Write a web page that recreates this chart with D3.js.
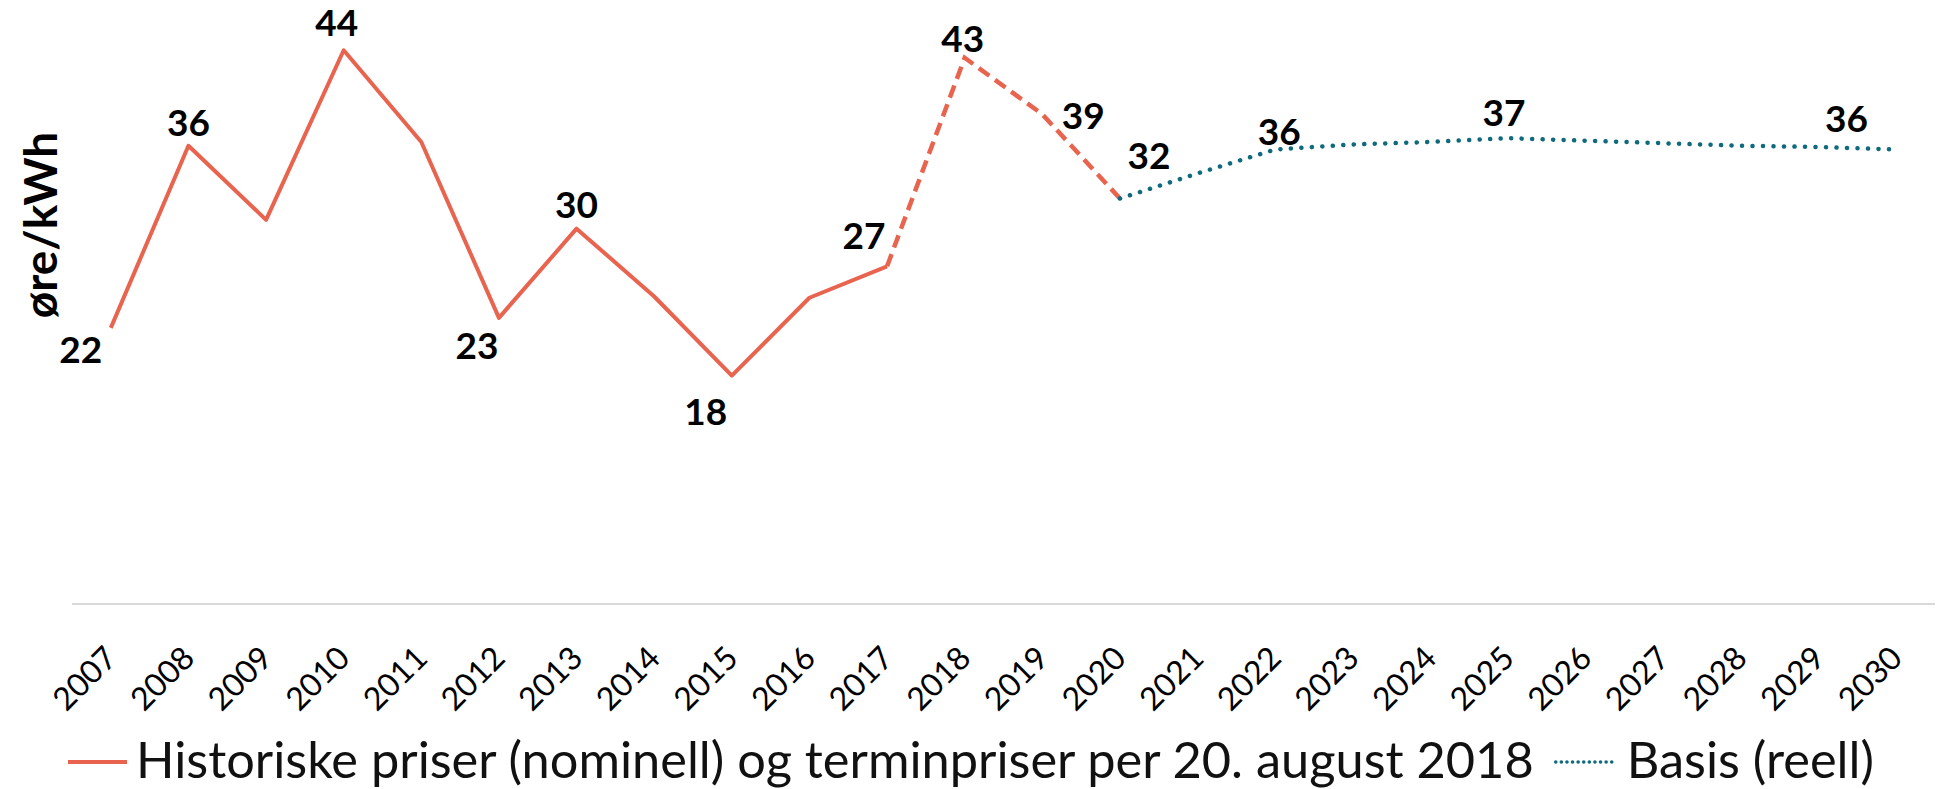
<!DOCTYPE html>
<html lang="nb">
<head>
  <meta charset="UTF-8">
  <title>Kraftpriser øre/kWh</title>
  <script src="https://d3js.org/d3.v7.min.js"></script>
  <style>
    body {
      margin: 0;
      background: #fff;
    }
    svg {
      display: block;
      font-family: Lato, "Open Sans", sans-serif;
    }
    .label {
      font-size: 37px;
      font-weight: bold;
      fill: #000;
      text-anchor: middle;
    }
    .tick-label {
      font-size: 32px;
      fill: #000;
      text-anchor: end;
    }
    .legend-text {
      font-size: 50.5px;
      fill: #111;
    }
  </style>
</head>
<body>
  <svg id="chart" width="1939" height="789"></svg>

  <script>
    // Kategorier (år)
    const years = d3.range(2007, 2031).map(String);

    // Historiske priser (nominell) 2007-2017 og terminpriser 2018-2020
    const histYears = ['2007', '2008', '2009', '2010', '2011', '2012', '2013', '2014', '2015', '2016', '2017', '2018', '2019', '2020'];
    const histValues = [21.9, 36.4, 30.5, 44.0, 36.7, 22.7, 29.8, 24.4, 18.1, 24.3, 26.8, 43.4, 38.9, 32.2];
    const forwardStart = '2017'; // herfra er linja stiplet

    // Basis (reell) 2020-2030
    const basisYears = ['2020', '2021', '2022', '2023', '2024', '2025', '2026', '2027', '2028', '2029', '2030'];
    const basisValues = [32.2, 34.2, 36.1, 36.5, 36.7, 37.0, 36.8, 36.6, 36.4, 36.3, 36.1];

    // Hvilke punkter som har dataetikett
    const histLabelled = ['2007', '2008', '2010', '2012', '2013', '2015', '2017', '2018', '2019', '2020'];
    const basisLabelled = ['2022', '2025', '2029'];

    const legendNames = ['Historiske priser (nominell) og terminpriser per 20. august 2018', 'Basis (reell)'];
    const yTitle = 'øre/kWh';

    // Plassering av etikettene i forhold til punktet (dx, dy til grunnlinja)
    const labelOffset = {
      '2007': [-30, 35], '2008': [0, -10], '2010': [-7, -14], '2012': [-22, 41],
      '2013': [0, -11], '2015': [-26, 49], '2017': [-23, -17], '2018': [-2, -6],
      '2019': [41, 15], '2020': [29, -29], '2022': [4, -4], '2025': [-4, -12],
      '2029': [28, -15]
    };

    const red = '#E8644F';
    const teal = '#0E6A7C';

    const svg = d3.select('#chart');

    // Skalaer
    const x = d3.scalePoint()
      .domain(years)
      .range([72, 1935])
      .padding(0.5);
    const y = d3.scaleLinear()
      .domain([0, 48])
      .range([603, 0]);

    // Kategoriakse (bare linje og roterte årstall)
    svg.append('line')
      .attr('x1', 72)
      .attr('x2', 1935)
      .attr('y1', y(0) + 1)
      .attr('y2', y(0) + 1)
      .attr('stroke', '#D9D9D9')
      .attr('stroke-width', 2);

    svg.append('g')
      .selectAll('text')
      .data(years)
      .join('text')
      .attr('class', 'tick-label')
      .attr('transform', d => `translate(${x(d) + 8}, 660) rotate(-45)`)
      .text(d => d);

    // Y-aksetittel
    svg.append('text')
      .attr('transform', 'translate(57, 225) rotate(-90)')
      .attr('text-anchor', 'middle')
      .attr('font-size', '46px')
      .attr('font-weight', 'bold')
      .attr('fill', '#000')
      .text(yTitle);

    const line = d3.line()
      .x(d => x(d[0]))
      .y(d => y(d[1]));

    const hist = histYears.map((yr, i) => [yr, histValues[i]]);
    const basis = basisYears.map((yr, i) => [yr, basisValues[i]]);
    const split = histYears.indexOf(forwardStart);

    // Historisk del (heltrukket)
    svg.append('path')
      .attr('d', line(hist.slice(0, split + 1)))
      .attr('fill', 'none')
      .attr('stroke', red)
      .attr('stroke-width', 4)
      .attr('stroke-linejoin', 'round');

    // Terminpriser (stiplet)
    svg.append('path')
      .attr('d', line(hist.slice(split)))
      .attr('fill', 'none')
      .attr('stroke', red)
      .attr('stroke-width', 4.5)
      .attr('stroke-dasharray', '13,7');

    // Basis (prikket)
    svg.append('path')
      .attr('d', line(basis))
      .attr('fill', 'none')
      .attr('stroke', teal)
      .attr('stroke-width', 4.5)
      .attr('stroke-linecap', 'round')
      .attr('stroke-dasharray', '0.1,10.4');

    // Dataetiketter
    const labels = hist.filter(d => histLabelled.includes(d[0]))
      .concat(basis.filter(d => basisLabelled.includes(d[0])));

    svg.append('g')
      .selectAll('text')
      .data(labels)
      .join('text')
      .attr('class', 'label')
      .attr('x', d => x(d[0]) + labelOffset[d[0]][0])
      .attr('y', d => y(d[1]) + labelOffset[d[0]][1])
      .text(d => Math.round(d[1]));

    // Tegnforklaring
    const legend = svg.append('g');
    legend.append('line')
      .attr('x1', 68).attr('x2', 127)
      .attr('y1', 762).attr('y2', 762)
      .attr('stroke', red)
      .attr('stroke-width', 4);
    const t1 = legend.append('text')
      .attr('class', 'legend-text')
      .attr('x', 136)
      .attr('y', 778)
      .text(legendNames[0]);

    const end1 = 136 + t1.node().getComputedTextLength();
    legend.append('line')
      .attr('x1', end1 + 22).attr('x2', end1 + 82)
      .attr('y1', 762).attr('y2', 762)
      .attr('stroke', teal)
      .attr('stroke-width', 3.5)
      .attr('stroke-linecap', 'round')
      .attr('stroke-dasharray', '0.1,5.5');
    legend.append('text')
      .attr('class', 'legend-text')
      .attr('x', end1 + 93)
      .attr('y', 778)
      .text(legendNames[1]);
  </script>
</body>
</html>
